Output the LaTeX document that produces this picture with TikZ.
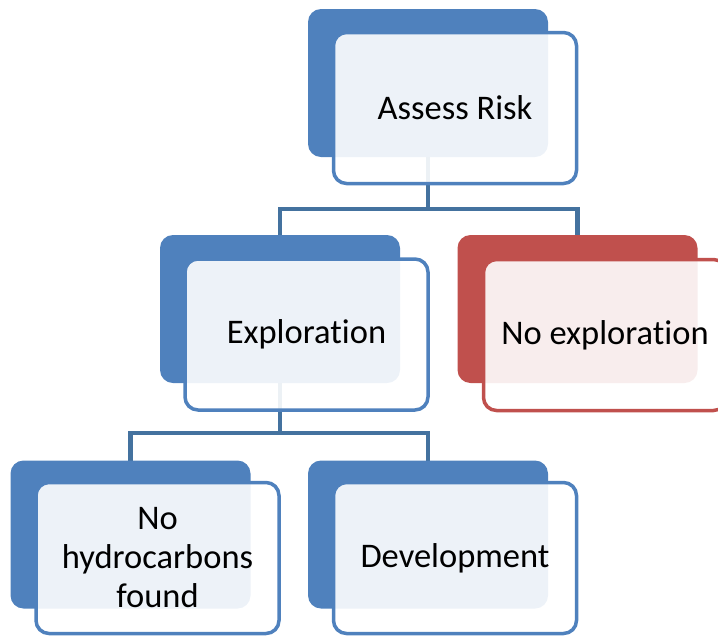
\documentclass[tikz,border=0pt]{standalone}
\usepackage{fontspec}
\setmainfont{Carlito}[Ligatures={NoCommon}]
\definecolor{accblue}{HTML}{4F81BD}
\definecolor{accred}{HTML}{C0504D}
\definecolor{connblue}{HTML}{44729F}
\pgfdeclarelayer{bg}
\pgfsetlayers{bg,main}
\begin{document}
\begin{tikzpicture}[x=1pt,y=-1pt,
  backbox/.style={rounded corners=13pt, fill=#1, minimum width=240pt, minimum height=148pt, inner sep=0pt, outer sep=0pt},
  frontbox/.style={rounded corners=13pt, draw=#1, line width=3.5pt, fill=white, fill opacity=0.9, text opacity=1,
     minimum width=243pt, minimum height=151pt, inner sep=0pt, outer sep=0pt, align=center,
     font=\fontsize{34.5}{39}\selectfont, text=black},
  conn/.style={draw=connblue, line width=4.5pt}]
\useasboundingbox (0,0) rectangle (718,638);
\clip (0,0) rectangle (718,638);
% back boxes
\node[backbox=accblue] (b1) at (428,83) {};
\node[backbox=accblue] (b2) at (280,309) {};
\node[backbox=accred]  (b3) at (577.5,309) {};
\node[backbox=accblue] (b4) at (130.5,534.5) {};
\node[backbox=accblue] (b5) at (428,534.5) {};
% front boxes
\node[frontbox=accblue] (f1) at (455,108) {Assess Risk};
\node[frontbox=accblue] (f2) at (306.5,334.5) {Exploration};
\node[frontbox=accred]  (f3) at (605,335) {No exploration};
\node[frontbox=accblue] (f4) at (157.5,558) {No\\hydrocarbons\\found};
\node[frontbox=accblue] (f5) at (455,558) {Development};
% connectors
\coordinate (j1) at (428,209);
\coordinate (j2) at (280,433);
\begin{pgfonlayer}{bg}
\draw[conn] (b1.center) -- (j1) -| (b2.center);
\draw[conn] (j1) -| (b3.center);
\draw[conn] (b2.center) -- (j2) -| (b4.center);
\draw[conn] (j2) -| (b5.center);
\end{pgfonlayer}
\end{tikzpicture}
\end{document}
